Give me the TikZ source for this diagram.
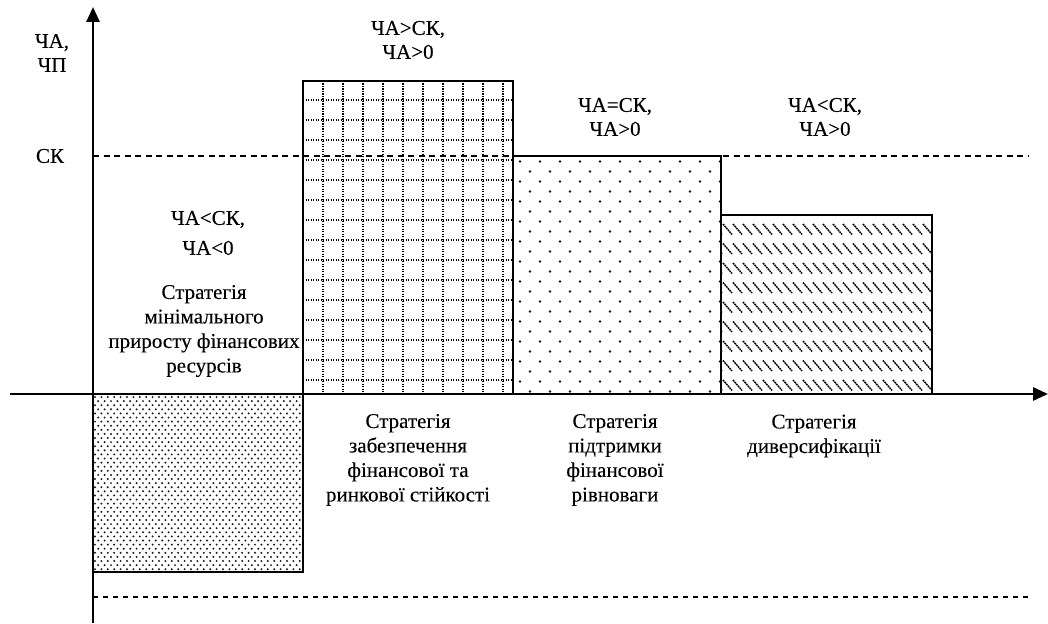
\documentclass[tikz,border=0pt]{standalone}
\usepackage{fontspec}
\setmainfont{Liberation Serif}[FakeBold=0.12]
\usetikzlibrary{arrows.meta}
\begin{document}
\begin{tikzpicture}[x=1pt,y=-1pt,
  txt/.style={font=\fontsize{21}{24.5}\selectfont, align=center, inner sep=0pt},
  cond/.style={font=\fontsize{21}{24}\selectfont, align=center, inner sep=0pt},
  axisln/.style={line width=2.8pt, -{Triangle[length=15pt,width=13pt]}},
  barbox/.style={draw, line width=1.8pt},
  dashln/.style={line width=1.4pt, dash pattern=on 6pt off 4.5pt},
  dotln/.style={line width=1.7pt, dash pattern=on 1.4pt off 1.1pt},
  dotfill/.style={fill=black!90}]
\useasboundingbox (0,0) rectangle (1048,623);

% named corners of the bars
\coordinate (b1a) at (93,394);  \coordinate (b1b) at (303,572);
\coordinate (b2a) at (303,81);  \coordinate (b2b) at (513,394);
\coordinate (b3a) at (513,156); \coordinate (b3b) at (721,394);
\coordinate (b4a) at (721,215); \coordinate (b4b) at (932,394);

% bar 1: dense dots
\begin{scope}
\clip (b1a) rectangle (b1b);
\foreach \j in {0,...,44}{
  \foreach \i in {0,...,34}{
    \fill[dotfill] ({95+\i*6.4+mod(\j,2)*3.2},{397+\j*4.1}) circle (1.1pt);
  }}
\end{scope}

% bar 2: dotted grid
\begin{scope}
\clip (b2a) rectangle (b2b);
\foreach \i in {0,...,9}{ \draw[dotln] ({323+\i*20},81) -- ({323+\i*20},394); }
\foreach \j in {0,...,14}{ \draw[dotln] (303,{100+\j*20}) -- (513,{100+\j*20}); }
\end{scope}

% bar 3: sparse staggered dots
\begin{scope}
\clip (b3a) rectangle (b3b);
\foreach \j in {0,...,23}{
  \foreach \i in {0,...,10}{
    \fill[dotfill] ({520+\i*20+mod(\j,2)*10},{161.5+\j*10}) circle (1.45pt);
  }}
\end{scope}

% bar 4: rows of short diagonal hatches
\begin{scope}
\clip (b4a) rectangle (b4b);
\foreach \j in {0,...,8}{
  \foreach \i in {-1,...,21}{
    \draw[line width=1.5pt, dash pattern=on 1.8pt off 0.7pt] ({723+\i*10},{224+\j*19.5}) -- ++(9,10.5);
  }}
\end{scope}

% dashed reference lines
\coordinate (sk0) at (93,156);  \coordinate (sk1) at (1028,156);
\coordinate (lo0) at (93,597);  \coordinate (lo1) at (1028,597);
\draw[dashln] (sk0) -- (sk1);
\draw[dashln, dash pattern=on 5pt off 5pt] (lo0) -- (lo1);

% bar outlines
\draw[barbox] (b1a) rectangle (b1b);
\draw[barbox] (b2a) rectangle (b2b);
\draw[barbox] (b3a) rectangle (b3b);
\draw[barbox] (b4a) rectangle (b4b);

% axes
\coordinate (xa0) at (10,394);  \coordinate (xa1) at (1048,394);
\coordinate (ya0) at (93,623);  \coordinate (ya1) at (93,7);
\draw[axisln] (xa0) -- (xa1);
\draw[axisln] (ya0) -- (ya1);

% labels
\node[cond] (yl) at (52,53) {ЧА,\\ЧП};
\node[cond] (sk) at (50,156) {СК};
\node[cond] (c2) at (408,40) {ЧА>СК,\\ЧА>0};
\node[cond] (c3) at (615,117) {ЧА=СК,\\ЧА>0};
\node[cond] (c4) at (825,117) {ЧА<СК,\\ЧА>0};
\node[cond, font=\fontsize{21}{30}\selectfont] (c1) at (208,233) {ЧА<СК,\\ЧА<0};
\node[txt] (s1) at (204,331) {Стратегія\\мінімального\\приросту фінансових\\ресурсів};
\node[txt] (s2) at (408,460) {Стратегія\\забезпечення\\фінансової та\\ринкової стійкості};
\node[txt] (s3) at (615,460) {Стратегія\\підтримки\\фінансової\\рівноваги};
\node[txt] (s4) at (814,436) {Стратегія\\диверсифікації};
\end{tikzpicture}
\end{document}
